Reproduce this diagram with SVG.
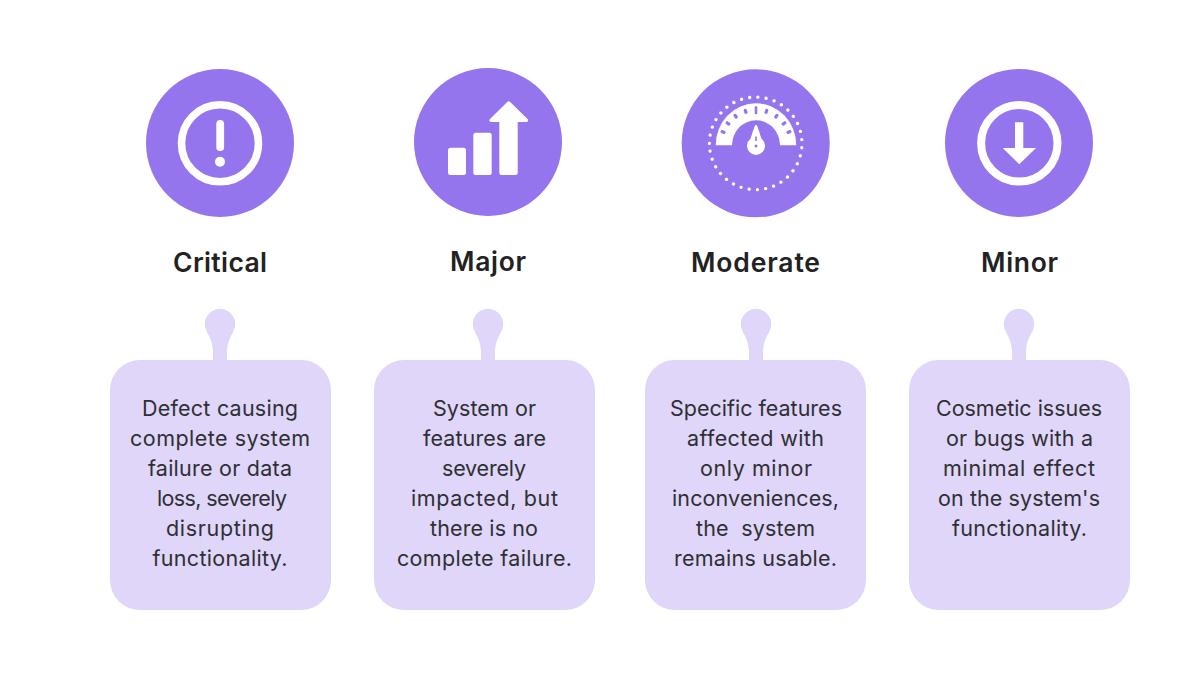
<svg xmlns="http://www.w3.org/2000/svg" width="1200" height="700" viewBox="0 0 1200 700">
<style>
.disc{fill:#9575ed}
.card{fill:#dfd6fa}
.w{fill:#fff}
.ring{fill:none;stroke:#fff}
.title{font-family:"Inter","Noto Sans",sans-serif;font-size:26.500px;font-weight:600;fill:#222;text-anchor:middle}
.body{font-family:"Inter","Noto Sans",sans-serif;font-size:21.500px;font-weight:400;fill:#2f2f33;text-anchor:middle;white-space:pre}
</style>
<defs>
<rect id="tick" x="-1.600" y="-38" width="3.200" height="5" rx="1.200" fill="#9575ed"/>
</defs>
<rect width="1200" height="700" fill="#fff"/>

<g id="node-critical">
<circle class="disc" cx="220" cy="143" r="74"/>
<circle class="ring" cx="220" cy="143.300" r="38.500" stroke-width="7.600"/>
<rect class="w" x="216.300" y="120" width="7.800" height="31" rx="3.800"/>
<circle class="w" cx="220" cy="161.700" r="5"/>
<text class="title" x="220" y="272" textLength="94">Critical</text>
<path class="card" d="M213 361V353C213 342 209 336 206.500 331A15.200 15.200 0 1 1 233.500 331C231 336 227 342 227 353V361Z"/>
<rect class="card" x="110" y="360" width="221" height="250" rx="30"/>
<text class="body" x="220" y="416" textLength="156">Defect causing</text>
<text class="body" x="220" y="446" textLength="180">complete system</text>
<text class="body" x="220" y="476" textLength="144">failure or data</text>
<text class="body" x="222" y="506" textLength="130">loss, severely</text>
<text class="body" x="220" y="536" textLength="108">disrupting</text>
<text class="body" x="220" y="566" textLength="135">functionality.</text>
</g>

<g id="node-major">
<circle class="disc" cx="488" cy="142" r="74"/>
<rect class="w" x="448" y="147.700" width="18" height="27.300" rx="2.500"/>
<rect class="w" x="473.300" y="132.700" width="18.400" height="42.300" rx="2.500"/>
<path class="w" d="M499.300 122H490.500Q488.500 121 490 119L507.500 101.800Q508.700 100.600 510 101.800L527.500 119Q529 121 527 122H517.700V172.500Q517.700 175 515.200 175H501.800Q499.300 175 499.300 172.500Z"/>
<text class="title" x="488" y="271" textLength="76">Major</text>
<path class="card" d="M481 361V353C481 342 477 336 474.500 331A15.200 15.200 0 1 1 501.500 331C499 336 495 342 495 353V361Z"/>
<rect class="card" x="374" y="360" width="221" height="250" rx="30"/>
<text class="body" x="484.500" y="416" textLength="103">System or</text>
<text class="body" x="484.500" y="446" textLength="123">features are</text>
<text class="body" x="484" y="476" textLength="84">severely</text>
<text class="body" x="484.500" y="506" textLength="147">impacted, but</text>
<text class="body" x="484" y="536" textLength="108">there is no</text>
<text class="body" x="484.500" y="566" textLength="175">complete failure.</text>
</g>

<g id="node-moderate">
<circle class="disc" cx="755.700" cy="143.300" r="74"/>
<circle cx="755.700" cy="143.400" r="46.300" fill="none" stroke="#fff" stroke-width="3.300" stroke-linecap="round" stroke-dasharray="0.010 8.302" transform="rotate(180 755.700 143.400)"/>
<path class="w" d="M715.700 145.300A40.300 42 0 0 1 796.300 145.300H780A24 25 0 0 0 732 145.300Z"/>
<g transform="translate(756 145.300)">
<rect x="-1.300" y="-39" width="2.600" height="8" rx="1" fill="#9575ed"/>
<use href="#tick" transform="rotate(-17)"/><use href="#tick" transform="rotate(17)"/>
<use href="#tick" transform="rotate(-35)"/><use href="#tick" transform="rotate(35)"/>
<use href="#tick" transform="rotate(-52)"/><use href="#tick" transform="rotate(52)"/>
<use href="#tick" transform="rotate(-68)"/><use href="#tick" transform="rotate(68)"/>
</g>
<path class="w" d="M755.300 125C754.300 127 752 134 750.500 138.800A9 9 0 1 0 761.500 138.800C760 134 757.700 127 756.700 125Z"/>
<rect x="755.200" y="136.500" width="1.600" height="4.500" fill="#9575ed"/>
<circle cx="756" cy="146" r="1.500" fill="#9575ed"/>
<text class="title" x="755.500" y="272" textLength="129">Moderate</text>
<path class="card" d="M749 361V353C749 342 745 336 742.500 331A15.200 15.200 0 1 1 769.500 331C767 336 763 342 763 353V361Z"/>
<rect class="card" x="645" y="360" width="221" height="250" rx="30"/>
<text class="body" x="756" y="416" textLength="172">Specific features</text>
<text class="body" x="755.500" y="446" textLength="137">affected with</text>
<text class="body" x="756" y="476" textLength="112">only minor</text>
<text class="body" x="755.500" y="506" textLength="167">inconveniences,</text>
<text class="body" x="755.500" y="536" textLength="119">the  system</text>
<text class="body" x="755.500" y="566" textLength="163">remains usable.</text>
</g>

<g id="node-minor">
<circle class="disc" cx="1019" cy="143" r="74"/>
<circle class="ring" cx="1019.300" cy="143.300" r="38.200" stroke-width="8"/>
<path class="w" d="M1015 122.300H1023.300V148H1036L1019.300 164.300L1002.700 148H1015Z"/>
<text class="title" x="1019.500" y="272" textLength="77">Minor</text>
<path class="card" d="M1012 361V353C1012 342 1008 336 1005.500 331A15.200 15.200 0 1 1 1032.500 331C1030 336 1026 342 1026 353V361Z"/>
<rect class="card" x="909" y="360" width="221" height="250" rx="30"/>
<text class="body" x="1019" y="416" textLength="166">Cosmetic issues</text>
<text class="body" x="1019.500" y="446" textLength="147">or bugs with a</text>
<text class="body" x="1019" y="476" textLength="152">minimal effect</text>
<text class="body" x="1019" y="506" textLength="162">on the system's</text>
<text class="body" x="1019.500" y="536" textLength="135">functionality.</text>
</g>
</svg>
